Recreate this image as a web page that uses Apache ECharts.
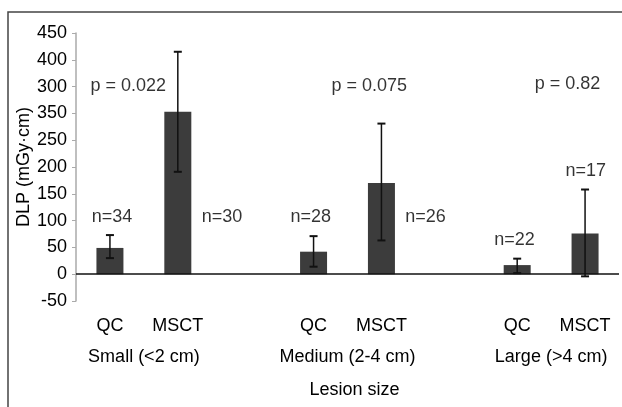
<!DOCTYPE html>
<html>
<head>
<meta charset="utf-8">
<script src="https://cdn.jsdelivr.net/npm/echarts@6/dist/echarts.min.js"></script>
<style>html,body{margin:0;padding:0;background:#fff;}#c{width:622px;height:407px;}</style>
</head>
<body>
<div id="c"></div>
<script>
// ---- data ----
var categories = ['QC', 'MSCT', '', 'QC', 'MSCT', '', 'QC', 'MSCT'];
var groupLabels = ['', 'Small (<2 cm)', '', '', 'Medium (2-4 cm)', '', '', 'Large (>4 cm)', ''];
var meanValues = [49, 303, null, 42, 170, null, 17, 76];
var errLow = [30, 191, null, 14, 63, null, 2, -4];
var errHigh = [73, 415, null, 71, 281, null, 29, 158];
var yTickValues = [-50, 0, 50, 100, 150, 200, 250, 300, 350, 400, 450];
var yTickLabels = ['-50', '0', '50', '100', '150', '200', '250', '350', '300', '400', '450'];
var noteTexts = ['p = 0.022', 'p = 0.075', 'p = 0.82', 'n=34', 'n=30', 'n=28', 'n=26', 'n=22', 'n=17'];
var noteX = [0.77, 4.32, 7.24, 0.53, 2.15, 3.46, 5.15, 6.46, 7.51];
var noteY = [351, 351, 355, 106, 106, 106, 106, 63, 192];
var yAxisTitle = 'DLP (mGy·cm)';
var xAxisTitle = 'Lesion size';

// ---- chart ----
var FONT = '"Liberation Sans", Arial, Helvetica, sans-serif';
var TXT = '#000';
var chart = echarts.init(document.getElementById('c'));

var errData = [];
for (var i = 0; i < categories.length; i++) {
  if (errLow[i] !== null) errData.push([i, errLow[i], errHigh[i]]);
}
var noteData = noteTexts.map(function (t, i) { return [noteX[i], noteY[i], t]; });

chart.setOption({
  animation: false,
  backgroundColor: '#fff',
  textStyle: { fontFamily: FONT },
  graphic: [{
    type: 'rect', shape: { x: 8, y: 12, width: 800, height: 600 },
    style: { fill: 'none', stroke: '#444', lineWidth: 1.5 }, silent: true, z: 0
  }],
  grid: { left: 76, right: 2, top: 33, bottom: 106, containLabel: false },
  xAxis: [{
    type: 'category', data: categories, gridIndex: 0, position: 'bottom',
    axisLine: { show: false }, axisTick: { show: false },
    axisLabel: { interval: 0, margin: 16, fontSize: 18, color: TXT, fontFamily: FONT }
  }, {
    type: 'category', data: groupLabels, gridIndex: 0, position: 'bottom', boundaryGap: false,
    axisLine: { show: false }, axisTick: { show: false },
    axisLabel: { interval: 0, margin: 47, fontSize: 18, color: TXT, fontFamily: FONT },
    name: xAxisTitle, nameLocation: 'middle', nameGap: 80, nameMoveOverlap: false,
    nameTextStyle: { fontSize: 18, color: TXT, fontFamily: FONT, padding: [0, 0, 0, 14] }
  }, {
    type: 'value', min: 0, max: 8, show: false, gridIndex: 0
  }],
  yAxis: {
    type: 'value', min: -50, max: 450, interval: 50,
    axisLine: { show: true, lineStyle: { color: '#aaa', width: 1.5 } },
    axisTick: { show: true, length: 4, lineStyle: { color: '#aaa' } },
    splitLine: { show: false },
    axisLabel: {
      fontSize: 18, color: TXT, margin: 9, fontFamily: FONT,
      formatter: function (v) {
        var k = yTickValues.indexOf(v);
        return k >= 0 ? yTickLabels[k] : '';
      }
    },
    name: yAxisTitle, nameLocation: 'middle', nameGap: 43, nameRotate: 90, nameMoveOverlap: false,
    nameTextStyle: { fontSize: 18, color: TXT, fontFamily: FONT }
  },
  series: [{
    type: 'bar', data: meanValues, xAxisIndex: 0, barWidth: 27,
    itemStyle: { color: '#3c3c3c' },
    markLine: {
      silent: true, symbol: 'none', label: { show: false },
      lineStyle: { color: '#111', width: 1.5, type: 'solid' },
      data: [{ yAxis: 0 }]
    }
  }, {
    type: 'custom', xAxisIndex: 0, data: errData, z: 5,
    renderItem: function (params, api) {
      var x = api.value(0);
      var lo = api.coord([x, api.value(1)]);
      var hi = api.coord([x, api.value(2)]);
      var w = 4;
      var st = { stroke: '#111', lineWidth: 1.5 };
      return {
        type: 'group', children: [
          { type: 'line', shape: { x1: lo[0], y1: lo[1], x2: hi[0], y2: hi[1] }, style: st },
          { type: 'line', shape: { x1: hi[0] - w, y1: hi[1], x2: hi[0] + w, y2: hi[1] }, style: { stroke: '#111', lineWidth: 2 } },
          { type: 'line', shape: { x1: lo[0] - w, y1: lo[1], x2: lo[0] + w, y2: lo[1] }, style: { stroke: '#111', lineWidth: 2 } }
        ]
      };
    }
  }, {
    type: 'scatter', xAxisIndex: 2, data: noteData, symbolSize: 1,
    itemStyle: { color: 'rgba(0,0,0,0)' },
    label: {
      show: true, position: 'inside', fontSize: 18, color: TXT, fontFamily: FONT,
      formatter: function (p) { return p.data[2]; }
    }
  }]
});
</script>
</body>
</html>
